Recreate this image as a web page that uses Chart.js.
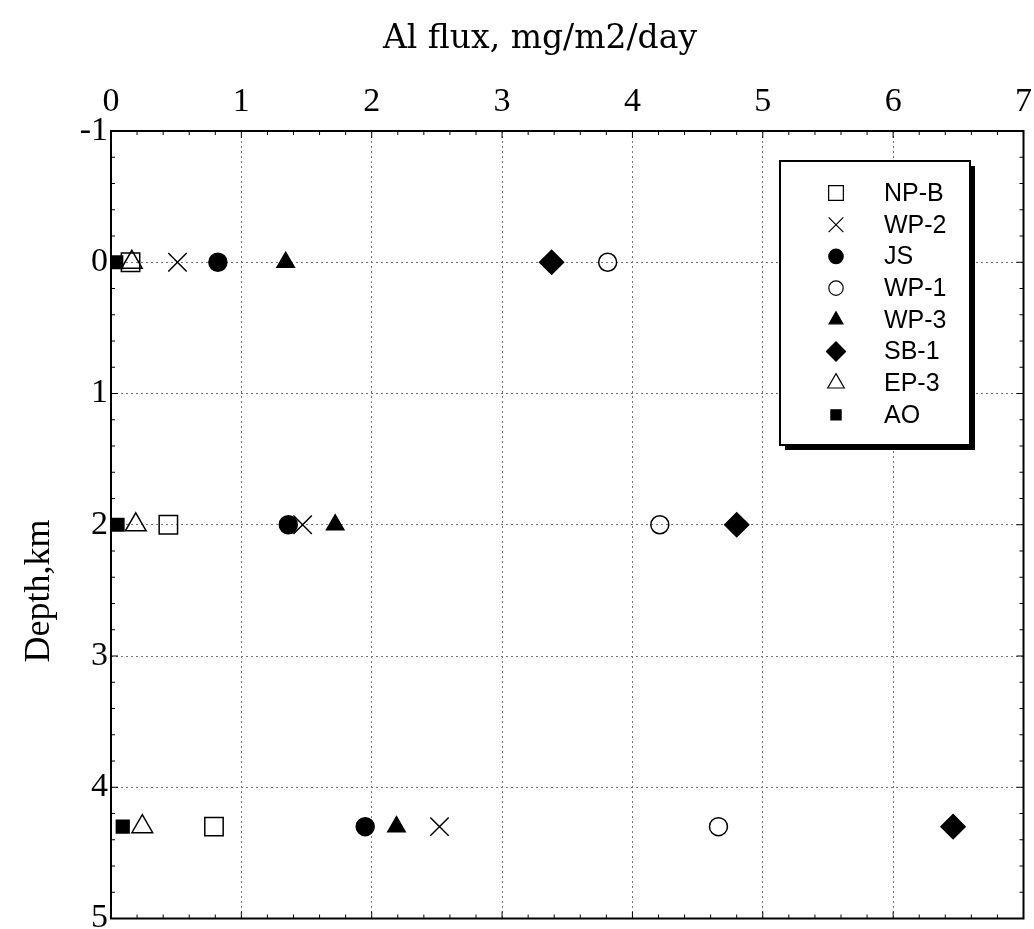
<!DOCTYPE html>
<html>
<head>
<meta charset="utf-8">
<script src="https://cdn.jsdelivr.net/npm/chart.js@4.4.1/dist/chart.umd.min.js"></script>
<style>
  html, body { margin: 0; padding: 0; background: #fff; overflow: hidden; }
  #wrap { width: 1038px; height: 933px; position: relative; }
</style>
</head>
<body>
<div id="wrap"><canvas id="chart"></canvas></div>
<script>
// depth of the sediment traps, km
var depths = [0, 2, 4.3];

var seriesNames = ['NP-B', 'WP-2', 'JS', 'WP-1', 'WP-3', 'SB-1', 'EP-3', 'AO'];

// Al flux, mg/m2/day at each depth
var fluxNPB = [0.15, 0.44, 0.79];
var fluxWP2 = [0.51, 1.47, 2.52];
var fluxJS  = [0.82, 1.36, 1.95];
var fluxWP1 = [3.81, 4.21, 4.66];
var fluxWP3 = [1.34, 1.72, 2.19];
var fluxSB1 = [3.38, 4.80, 6.46];
var fluxEP3 = [0.16, 0.19, 0.24];
var fluxAO  = [0.04, 0.05, 0.09];

var xTicks = [0, 1, 2, 3, 4, 5, 6, 7];
var yTicks = [-1, 0, 1, 2, 3, 4, 5];

var xTitle = 'Al flux, mg/m2/day';
var yTitle = 'Depth,km';

var allFlux = [fluxNPB, fluxWP2, fluxJS, fluxWP1, fluxWP3, fluxSB1, fluxEP3, fluxAO];

// marker look for each series
var markers = [
    { style: 'rect',     radius: 13, filled: false },
    { style: 'crossRot', radius: 13, filled: false },
    { style: 'circle',   radius: 9,  filled: true },
    { style: 'circle',   radius: 9,  filled: false },
    { style: 'triangle', radius: 10, filled: true },
    { style: 'rectRot',  radius: 12, filled: true },
    { style: 'triangle', radius: 12, filled: false },
    { style: 'rect',     radius: 9,  filled: true }
];

var datasets = seriesNames.map(function(name, i) {
    var m = markers[i];
    return {
        label: name,
        data: depths.map(function(d, j) { return { x: allFlux[i][j], y: d }; }),
        pointStyle: m.style,
        pointRadius: m.radius,
        pointHoverRadius: m.radius,
        pointBorderWidth: 1.5,
        pointBorderColor: '#000',
        pointBackgroundColor: m.filled ? '#000' : 'rgba(0,0,0,0)',
        showLine: false
    };
});

var serif = '"Liberation Serif", "Times New Roman", serif';

// frame, inward minor ticks, axis titles and the boxed legend
var framePlugin = {
    id: 'frame',
    afterDatasetsDraw: function(chart) {
        var ctx = chart.ctx;
        var a = chart.chartArea;
        var xs = chart.scales.x, ys = chart.scales.y;
        ctx.save();
        ctx.strokeStyle = '#000';
        ctx.lineWidth = 1;
        var v, p, len;
        for (var k = 0; k <= 35; k++) {
            v = k / 5;
            p = xs.getPixelForValue(v);
            len = (k % 5 === 0) ? 7 : 4;
            ctx.beginPath();
            ctx.moveTo(p, a.top); ctx.lineTo(p, a.top + len);
            ctx.moveTo(p, a.bottom); ctx.lineTo(p, a.bottom - len);
            ctx.stroke();
        }
        for (var k2 = -5; k2 <= 25; k2++) {
            v = k2 / 5;
            p = ys.getPixelForValue(v);
            len = (k2 % 5 === 0) ? 7 : 4;
            ctx.beginPath();
            ctx.moveTo(a.left, p); ctx.lineTo(a.left + len, p);
            ctx.moveTo(a.right, p); ctx.lineTo(a.right - len, p);
            ctx.stroke();
        }
        ctx.lineWidth = 2;
        ctx.strokeRect(a.left, a.top, a.right - a.left, a.bottom - a.top);

        // axis titles
        ctx.fillStyle = '#000';
        ctx.textAlign = 'center';
        ctx.textBaseline = 'middle';
        ctx.font = '33px "DejaVu Serif", serif';
        ctx.fillText(xTitle, 540, 39);
        ctx.save();
        ctx.translate(40, 591);
        ctx.rotate(-Math.PI / 2);
        ctx.font = '36px ' + serif;
        ctx.fillText(yTitle, 0, 0);
        ctx.restore();

        // legend box with drop shadow
        var bx = 780, by = 161, bw = 190, bh = 284;
        ctx.fillStyle = '#000';
        ctx.fillRect(bx + 5, by + 5, bw, bh);
        ctx.fillStyle = '#fff';
        ctx.fillRect(bx, by, bw, bh);
        ctx.lineWidth = 2;
        ctx.strokeRect(bx, by, bw, bh);

        ctx.font = '25px "Liberation Sans", Arial, sans-serif';
        ctx.textBaseline = 'middle';
        ctx.textAlign = 'left';
        seriesNames.forEach(function(name, i) {
            var m = markers[i];
            var cy = by + 32 + i * 31.7;
            ctx.fillStyle = m.filled ? '#000' : 'rgba(0,0,0,0)';
            ctx.strokeStyle = '#000';
            ctx.lineWidth = 1.2;
            Chart.helpers.drawPoint(ctx, {
                pointStyle: m.style,
                radius: m.radius * 0.8,
                rotation: 0,
                borderWidth: 1.2
            }, 836, cy);
            ctx.fillStyle = '#000';
            ctx.fillText(name, 884, cy + 1);
        });
        ctx.restore();
    }
};

new Chart(document.getElementById('chart'), {
    type: 'scatter',
    data: { datasets: datasets },
    plugins: [framePlugin],
    options: {
        responsive: true,
        maintainAspectRatio: false,
        animation: false,
        layout: { padding: { left: 0, top: 0, right: 7, bottom: 8 } },
        plugins: {
            legend: { display: false },
            tooltip: { enabled: false }
        },
        scales: {
            x: {
                type: 'linear',
                position: 'top',
                min: 0,
                max: 7,
                afterBuildTicks: function(scale) {
                    scale.ticks = xTicks.map(function(v) { return { value: v }; });
                },
                afterFit: function(scale) {
                    scale.height = 131;
                    scale.paddingLeft = 0;
                    scale.paddingRight = 0;
                },
                ticks: {
                    color: '#000',
                    font: { family: serif, size: 34 },
                    padding: 9
                },
                grid: {
                    color: '#777',
                    lineWidth: 1,
                    drawTicks: false
                },
                border: { display: false, dash: [2, 3] }
            },
            y: {
                type: 'linear',
                reverse: true,
                min: -1,
                max: 5,
                afterBuildTicks: function(scale) {
                    scale.ticks = yTicks.map(function(v) { return { value: v }; });
                },
                afterFit: function(scale) {
                    scale.width = 111;
                    scale.paddingTop = 0;
                    scale.paddingBottom = 0;
                },
                ticks: {
                    color: '#000',
                    font: { family: serif, size: 34 },
                    padding: 3
                },
                grid: {
                    color: '#777',
                    lineWidth: 1,
                    drawTicks: false
                },
                border: { display: false, dash: [2, 3] }
            }
        }
    }
});
</script>
</body>
</html>
